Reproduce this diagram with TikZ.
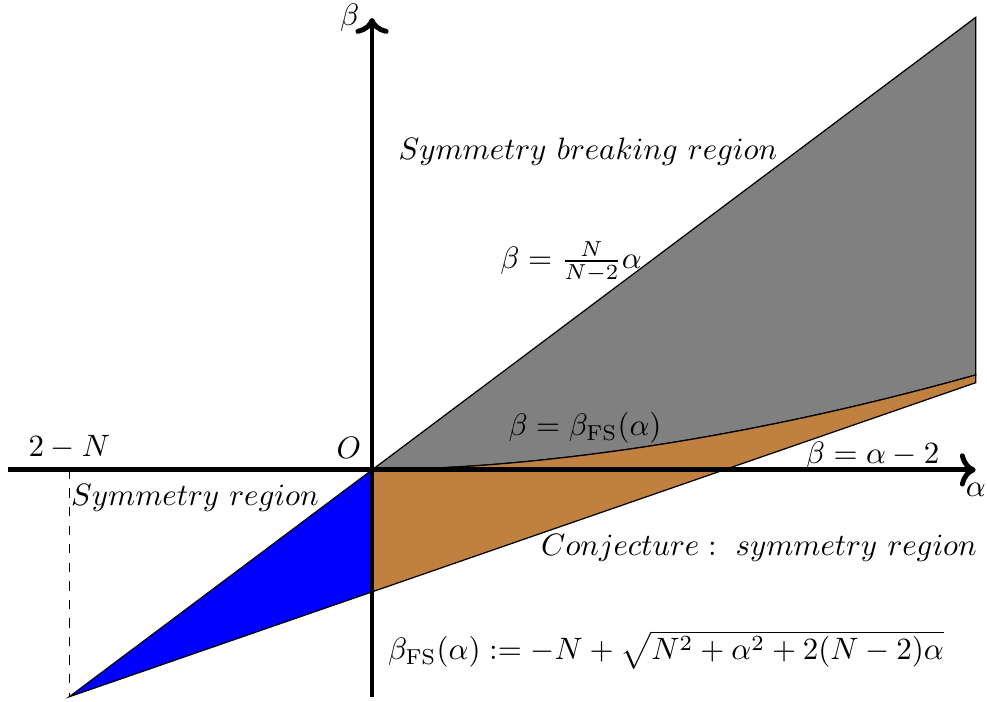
\documentclass[tikz,border=0pt]{standalone}
\usetikzlibrary{arrows.meta}

\begin{document}
\begin{tikzpicture}[
    x=2cm,
    y=0.693cm,
    axis/.style={->, ultra thick},
    region/.style={draw=black, line width=0.4pt},
    guide/.style={dashed, line width=0.4pt}
]
    \useasboundingbox (-2.1136,-3.803) rectangle (3.494,7.705);

    % corner points of the regions (N = 3.72)
    \coordinate (O) at (0,0);
    \coordinate (low) at (-1.72,-3.72);
    \coordinate (mid) at (0,-2);
    \coordinate (top) at (3.43,7.42);
    \coordinate (fs) at (3.43,1.557);
    \coordinate (lin) at (3.43,1.43);
    \coordinate (foot) at (-1.72,0);

    % regions
    \path[region, fill=gray] (O) -- plot[domain=0.01:3.43, samples=50, smooth] (\x,{1.557*(\x/3.43)^1.78}) -- (top) -- cycle;
    \path[region, fill=brown] (O) -- plot[domain=0.01:3.43, samples=50, smooth] (\x,{1.557*(\x/3.43)^1.78}) -- (lin) -- (mid) -- cycle;
    \path[region, fill=blue] (O) -- (mid) -- (low) -- cycle;
    \draw[guide] (foot) -- (low);

    % axes
    \coordinate (xl) at (-2.068,0);
    \coordinate (xr) at (3.43,0);
    \coordinate (yb) at (0,-3.72);
    \coordinate (yt) at (0,7.41);
    \draw[axis] (xl) -- (xr) node[below] (alpha) {$\alpha$};
    \draw[axis] (yb) -- (yt) node[left] (beta) {$\beta$};

    \node[above left] (origin) at (O) {$O$};
    \node[above] (twoN) at (foot) {$2-N$};

    % labels
    \node (sym) at (-1.006,-0.459) {$Symmetry\ region$};
    \node (symb) at (1.227,5.213) {$Symmetry\ breaking\ region$};
    \node (upper) at (1.131,3.41) {$\beta=\frac{N}{N-2}\alpha$};
    \node (curve) at (1.21,0.689) {$\beta=\beta_{\mathrm{FS}}(\alpha)$};
    \node (lower) at (2.844,0.23) {$\beta=\alpha-2$};
    \node (conj) at (2.199,-1.279) {$Conjecture:\ symmetry\ region$};
    \node (formula) at (1.67,-2.95) {$\beta_{\mathrm{FS}}(\alpha):=-N+\sqrt{N^2+\alpha^2+2(N-2)\alpha}$};
\end{tikzpicture}
\end{document}
